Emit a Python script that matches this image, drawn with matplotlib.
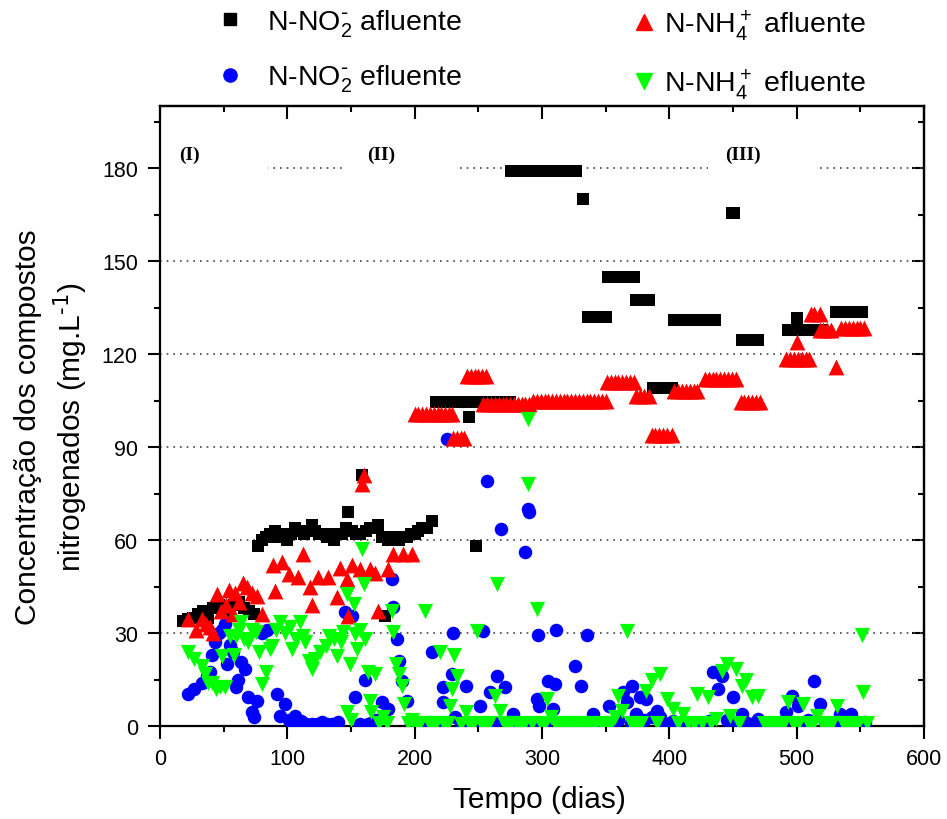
import matplotlib
matplotlib.use("Agg")
import matplotlib.pyplot as plt
from matplotlib.ticker import MultipleLocator
from matplotlib.patches import Rectangle
from matplotlib.lines import Line2D

plt.rcParams['font.family'] = ['Liberation Sans', 'DejaVu Sans']
plt.rcParams['mathtext.default'] = 'regular'

# N-NO2 afluente (black squares)
no2_af_dias = [18, 22, 26, 30, 34, 38, 42, 46, 50, 54, 58, 62, 66, 70, 74,
               77, 80, 83, 86, 90, 93, 96, 100, 103, 106, 110, 113, 116, 119, 122,
               125, 128, 131, 134, 137, 140, 143, 146, 148, 151, 154, 157, 159, 162,
               165, 168, 171, 174, 177, 179, 182, 185, 188, 191, 194, 197, 200, 203,
               206, 210, 214,
               217, 220, 223, 226, 229, 232, 235, 238, 241, 243, 244, 247, 248, 250,
               253, 256, 259, 262, 265, 268, 271, 275,
               276, 279, 282, 285, 288, 291, 294, 297, 300, 303, 306, 309, 312, 315,
               318, 321, 324, 327, 332,
               336, 339, 342, 345, 348, 350,
               352, 355, 358, 361, 364, 367, 370, 372,
               374, 377, 380, 384,
               387, 390, 393, 396, 399, 402,
               404, 407, 410, 413, 416, 419, 422, 425, 428, 431, 434, 436,
               449, 451,
               457, 460, 463, 466, 470,
               493, 496, 499, 500, 502, 505, 508, 511, 514, 517, 519,
               531, 534, 537, 540, 543, 546, 549, 551]
no2_af_val = [34, 34.5, 35, 36, 37, 35, 38, 39, 37, 38, 39, 40, 38, 37, 36,
              58, 60, 61, 62, 63, 61, 62, 60, 62, 64, 63, 62, 63, 65, 63,
              62, 62, 61, 62, 60, 62, 62, 64, 69, 63, 62, 62, 81, 63,
              64, 64, 65, 61, 35.5, 60, 61, 61, 60, 61, 61, 62, 62, 63,
              64, 64, 66,
              104.5, 104.5, 104.5, 104.5, 104.5, 104.5, 104.5, 104.5, 104.5, 99.8, 104.5,
              104.5, 58, 104.5,
              104.5, 104.5, 104.5, 104.5, 104.5, 104.5, 104.5, 104.5,
              179, 179, 179, 179, 179, 179, 179, 179, 179, 179, 179, 179, 179, 179,
              179, 179, 179, 179, 170,
              132, 132, 132, 132, 132, 132,
              145, 145, 145, 145, 145, 145, 145, 145,
              137.5, 137.5, 137.5, 137.5,
              109, 109, 109, 109, 109, 109,
              131, 131, 131, 131, 131, 131, 131, 131, 131, 131, 131, 131,
              165.5, 165.5,
              124.5, 124.5, 124.5, 124.5, 124.5,
              127.7, 127.7, 127.7, 131.5, 127.7, 127.7, 127.7, 127.7, 127.7, 127.7, 127.7,
              133.5, 133.5, 133.5, 133.5, 133.5, 133.5, 133.5, 133.5]

# N-NO2 efluente (blue circles)
no2_ef_dias = [22, 27, 33, 37, 39, 41, 43, 46, 49, 51, 53, 55, 57, 60, 61, 64, 67, 69,
               72, 74, 76, 80, 84, 92, 94, 98, 101, 104, 106, 111, 115, 119, 123, 127,
               131, 135, 140, 145, 151, 153, 157, 161, 163, 166, 170, 174, 179, 182,
               183, 186, 188, 190, 194, 197,
               200, 205, 210, 214, 218, 222, 222, 225, 229, 230, 232, 236, 240, 244,
               248, 251, 254, 257, 259, 262, 265, 268, 271, 274, 277, 280, 284, 287,
               289, 290, 293, 296, 297, 298, 302, 305, 309, 310, 311, 315, 318, 322,
               326, 331, 335, 336, 340, 344, 348, 353, 357, 360, 364, 367, 370, 371,
               374, 377, 380, 382, 386, 390, 393, 396, 400, 403, 407, 411, 415, 419,
               423, 427, 431, 434, 438, 441, 445, 450, 454, 457, 461, 465, 470, 474,
               478, 484, 489, 492, 496, 501, 505, 509, 514, 518, 522, 526, 530, 534,
               538, 543, 547, 551, 554]
no2_ef_val = [10.3, 12, 14, 16, 17.4, 23, 27, 30, 31, 33, 20, 26, 24, 12.6, 15, 20.6, 18.4, 9.4,
              4.5, 3, 8, 30, 31, 10.3, 3.2, 7, 2, 1, 3.2, 1.6, 0.8, 0.5, 0.8, 1.3,
              0.5, 0.8, 1.3, 36.8, 35.5, 9.4, 0.8, 15, 0.6, 1, 2, 7.7, 5.5, 47.5,
              38.4, 28, 21, 14.5, 8, 1,
              1, 0.5, 1, 24, 1, 12.6, 7.7, 92.6, 16.8, 30, 2.9, 1, 13, 0.5,
              1, 6.5, 30.5, 79, 11, 1, 16, 63.5, 12.6, 0.5, 3.9, 1, 0.5, 56,
              70, 69, 1, 8.7, 29.4, 6.5, 1, 14.5, 5.5, 13.5, 31, 1, 0.5, 1,
              19.4, 13, 29.4, 1, 3.9, 0.5, 1, 6.5, 1, 2, 11, 7.7, 1, 13,
              4, 9.4, 2, 8.7, 3, 4.8, 2.9, 1, 0.5, 1.6, 0.5, 1, 0.5, 1,
              0.5, 1, 1.5, 17.4, 12, 16, 2, 9.4, 1, 3.9, 1, 0.5, 2.3, 1,
              0.5, 0.5, 1, 4.5, 9.7, 6.5, 1, 2, 14.5, 7, 1, 0.5, 1, 3.9,
              1, 3.9, 1, 0.5, 1.3]

# N-NH4 afluente (red triangles)
nh4_af_dias = [22, 28, 33, 36, 39, 42, 45, 48, 52, 54, 57, 59, 62, 65, 68, 72, 76, 80,
               89, 90, 96, 101, 108, 112, 118, 119, 124, 132, 139, 141, 147, 148, 151,
               157, 159, 160, 165, 169, 171, 179, 183, 191, 198,
               200, 203, 206, 209, 212, 215, 218, 221, 224, 227, 229,
               230, 233, 236, 239,
               241, 244, 247, 250, 253, 256,
               254, 257, 260, 263, 266, 269, 272, 275, 278, 281, 284, 287, 290,
               293, 296, 299, 302, 305, 308, 311, 314, 317, 320, 323, 326, 329, 332,
               335, 338, 341, 344, 347, 350,
               351, 354, 357, 360, 363, 366, 369, 372,
               374, 377, 380, 384,
               386, 389, 392, 395, 398, 402,
               404, 407, 410, 413, 416, 419, 422,
               428, 431, 434, 437, 440, 443, 446, 449, 452,
               456, 459, 462, 465, 468, 471,
               492, 495, 498, 501, 504, 507, 510, 500,
               511, 514, 518,
               518, 521, 524, 527,
               535, 538, 541, 544, 547, 550, 553, 531]
nh4_af_val = [34.5, 31, 34.5, 33, 32, 30, 42.5, 37, 39, 44, 36, 43, 40, 46, 45, 43, 42, 36,
              52, 43.5, 53, 49, 48, 55.5, 45, 39, 48, 48, 41.5, 51, 47.5, 35.5, 52,
              50.5, 78, 81, 50.5, 49.5, 37, 50.5, 55.5, 55.5, 55.5,
              100.5, 100.5, 100.5, 100.5, 100.5, 100.5, 100.5, 100.5, 100.5, 100.5, 100.5,
              93, 93, 93, 93,
              113, 113, 113, 113, 113, 113,
              104, 104, 104, 104, 104, 104, 104, 104, 104, 104, 104, 104, 104,
              105, 105, 105, 105, 105, 105, 105, 105, 105, 105, 105, 105, 105, 105,
              105, 105, 105, 105, 105, 105,
              111, 111, 111, 111, 111, 111, 111, 111,
              106.3, 106.3, 106.3, 106.3,
              94, 94, 94, 94, 94, 94,
              108, 108, 108, 108, 108, 108, 108,
              112, 112, 112, 112, 112, 112, 112, 112, 112,
              104.4, 104.4, 104.4, 104.4, 104.4, 104.4,
              118.3, 118.3, 118.3, 118.3, 118.3, 118.3, 118.3, 123.8,
              133, 133, 133,
              127.7, 127.7, 127.7, 127.7,
              128.3, 128.3, 128.3, 128.3, 128.3, 128.3, 128.3, 115.7]

# N-NH4 efluente (green down triangles)
nh4_ef_dias = [22, 27, 33, 35, 38, 41, 44, 47, 51, 49, 55, 58, 60, 62, 64, 66, 69, 72,
               75, 78, 80, 83, 86, 88, 91, 94, 98, 102, 104, 107, 110, 112, 114, 117,
               119, 122, 126, 130, 133, 137, 139, 142, 144, 147, 147, 149, 150, 152,
               153, 155, 157, 159, 160, 161, 163, 165, 166, 169, 172, 175, 178, 182,
               183, 185, 188, 190, 192, 195, 198, 201, 204, 208, 211, 214, 217, 220,
               223, 226, 228, 229, 231, 233, 236, 240, 243, 246, 249, 252, 255, 258,
               263, 265, 267, 270, 273, 276, 280, 283, 286, 289, 289, 292, 296, 299,
               302, 304, 307, 310, 313, 317, 320, 323, 327, 330, 334, 338, 342, 346,
               350, 354, 357, 360, 363, 367, 370, 374, 378, 382, 386, 390, 393, 398,
               403, 407, 411, 415, 419, 422, 426, 430, 433, 437, 441, 445, 448, 452,
               455, 457, 460, 465, 470, 474, 478, 482, 486, 490, 493, 497, 501, 505,
               509, 513, 516, 520, 524, 528, 532, 536, 540, 544, 548, 551, 552, 555]
nh4_ef_val = [24, 21.6, 19.4, 16.8, 14, 14, 12, 12.6, 12.6, 22.6, 29, 23, 29, 31, 33.5, 28, 27, 31,
              30.3, 24, 13.5, 17.4, 25, 25.8, 31, 33.5, 30, 32, 24.8, 28, 33.5, 29, 27, 21,
              18.4, 21.6, 24, 25.8, 29, 28, 22.6, 27, 30.3, 42.6, 4.5, 20, 2, 39.4,
              29.7, 24.8, 31, 57, 45.8, 28, 17.4, 8, 4.5, 16.8, 1, 3, 1, 37,
              30.3, 20, 16.8, 13, 7, 1, 2, 0.5, 1, 37, 1, 0.5, 1, 24,
              0.5, 1, 6.5, 12, 23, 16, 0.5, 4.5, 1, 0.5, 30.6, 1, 0.5, 1,
              9.7, 45.8, 4.8, 1, 0.5, 1, 0.5, 1, 0.5, 99, 78, 1, 37.7, 0.5,
              1, 8.7, 3, 1, 0.5, 1, 0.5, 1, 0.5, 1, 0.5, 1, 0.5, 1,
              0.5, 1, 3, 9.7, 4.8, 30.6, 1, 0.5, 1, 11.3, 15, 1, 16.8, 8.7,
              5.5, 1, 3.9, 1, 0.5, 10.3, 1, 9.4, 1, 2.3, 17.8, 20, 3.2, 18.4,
              1, 13, 15, 9.4, 9.7, 1, 0.5, 1, 0.5, 1, 7.7, 1, 0.5, 7,
              1, 0.5, 3.2, 1, 0.5, 1, 6.5, 1, 0.5, 1, 0.5, 29.4, 11, 1]

fig = plt.figure(figsize=(9.47, 8.2), dpi=100)
ax = fig.add_axes([160 / 947, 93 / 820, 764 / 947, 620 / 820])

ax.scatter(no2_af_dias, no2_af_val, marker='s', s=85, color='black', linewidths=0, zorder=3)
ax.scatter(no2_ef_dias, no2_ef_val, marker='o', s=95, color='#0000ff', linewidths=0, zorder=4)
ax.scatter(nh4_af_dias, nh4_af_val, marker='^', s=130, color='#ff0000', linewidths=0, zorder=5)
ax.scatter(nh4_ef_dias, nh4_ef_val, marker='v', s=120, color='#00ff00', linewidths=0, zorder=6)

ax.set_xlim(0, 600)
ax.set_ylim(0, 200)
ax.xaxis.set_major_locator(MultipleLocator(100))
ax.xaxis.set_minor_locator(MultipleLocator(50))
ax.yaxis.set_major_locator(MultipleLocator(30))
ax.yaxis.set_minor_locator(MultipleLocator(15))
ax.tick_params(which='major', direction='out', length=9, width=1.5, labelsize=15.5, pad=7)
ax.tick_params(which='minor', direction='out', length=4.5, width=1.5)
for sp in ax.spines.values():
    sp.set_linewidth(1.6)

# inward ticks on top and right
top = ax.secondary_xaxis('top')
top.xaxis.set_major_locator(MultipleLocator(100))
top.xaxis.set_minor_locator(MultipleLocator(50))
top.tick_params(which='major', direction='in', length=9, width=1.5, labeltop=False)
top.tick_params(which='minor', direction='in', length=4.5, width=1.5)
top.spines['top'].set_linewidth(1.6)
right = ax.secondary_yaxis('right')
right.yaxis.set_major_locator(MultipleLocator(30))
right.yaxis.set_minor_locator(MultipleLocator(15))
right.tick_params(which='major', direction='in', length=9, width=1.5, labelright=False)
right.tick_params(which='minor', direction='in', length=4.5, width=1.5)
right.spines['right'].set_linewidth(1.6)

ax.set_axisbelow(True)
ax.yaxis.grid(True, which='major', linestyle=(0, (1, 3)), color='#444444', linewidth=1.2)

# phase labels
for x0, w, xt, lab in [(0, 85, 23, '(I)'), (145, 88, 174, '(II)'), (430, 88, 458, '(III)')]:
    ax.add_patch(Rectangle((x0, 175), w, 19, facecolor='white', edgecolor='none', zorder=1))
    ax.text(xt, 184.5, lab, family='Liberation Serif', weight='bold', fontsize=14,
            ha='center', va='center', zorder=7)

ax.set_xlabel('Tempo (dias)', fontsize=21.5)
ax.xaxis.set_label_coords(0.497, -0.095)
ax.set_ylabel('Concentração dos compostos\nnitrogenados (mg.L$^{\\text{-1}}$)', fontsize=21.5,
              linespacing=1.3)
ax.yaxis.set_label_coords(-0.093, 0.484)

h1 = [Line2D([], [], ls='none', marker='s', ms=8.5, color='black'),
      Line2D([], [], ls='none', marker='o', ms=9.5, color='#0000ff')]
h2 = [Line2D([], [], ls='none', marker='^', ms=11, color='#ff0000'),
      Line2D([], [], ls='none', marker='v', ms=11, color='#00ff00')]
leg1 = fig.legend(h1, ['N-NO$_2^{\\text{-}}$ afluente', 'N-NO$_2^{\\text{-}}$ efluente'],
                  loc='upper left', bbox_to_anchor=(216 / 947, 1 - 8 / 820), frameon=False,
                  fontsize=20.5, handlelength=1.0, handletextpad=0.8, labelspacing=0.85,
                  borderpad=0, borderaxespad=0)
leg2 = fig.legend(h2, ['N-NH$_4^+$ afluente', 'N-NH$_4^+$ efluente'], loc='upper left',
                  bbox_to_anchor=(630 / 947, 1 - 8 / 820), frameon=False, fontsize=20.5,
                  handlelength=1.0, handletextpad=0.2, labelspacing=0.85, borderpad=0,
                  borderaxespad=0)

fig.savefig('out.png', dpi=100)
